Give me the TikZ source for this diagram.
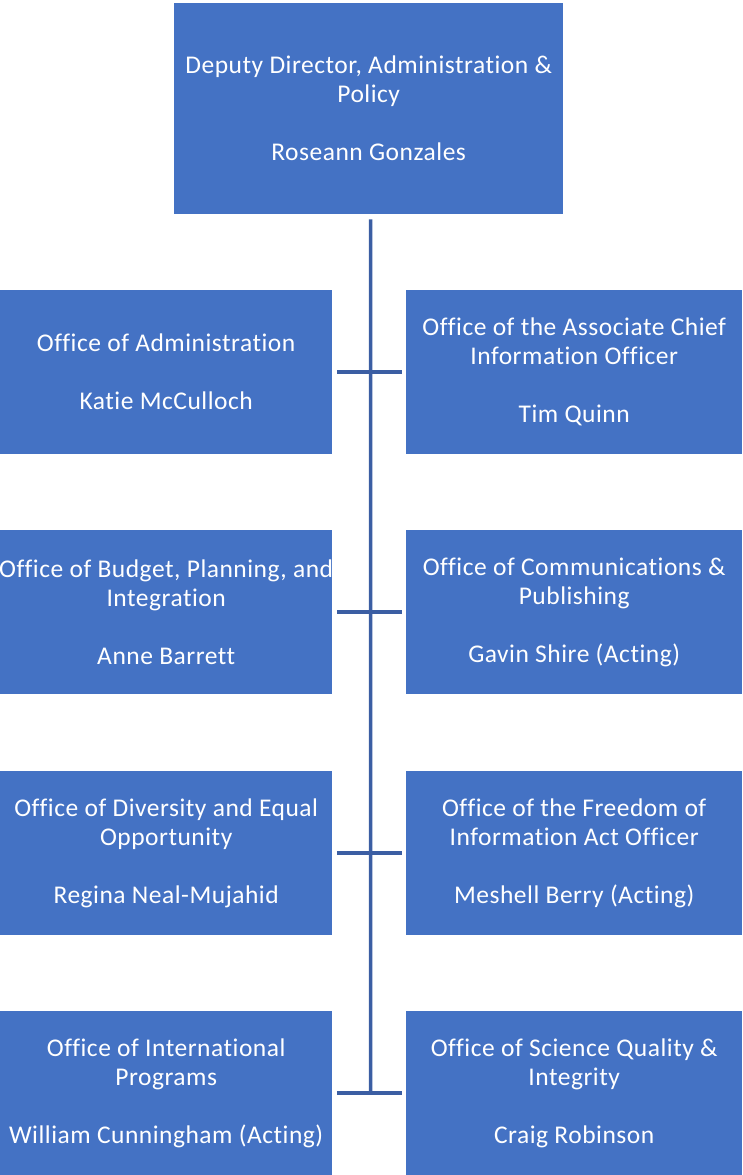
\documentclass[tikz,border=0pt]{standalone}
\usepackage{fontspec}
\setmainfont{Carlito}[LetterSpace=2.0,Ligatures=NoCommon]
\definecolor{boxblue}{HTML}{4472C4}
\definecolor{lineblue}{RGB}{59,94,163}
\begin{document}
\begin{tikzpicture}[x=1pt,y=-1pt,
  box/.style={fill=boxblue, text=white, align=center, font=\fontsize{25.5}{29}\selectfont, inner sep=0pt, anchor=north west},
  lbox/.style={box, minimum width=332pt, minimum height=164pt},
  rbox/.style={box, minimum width=336pt, minimum height=164pt},
  conn/.style={draw=lineblue, line width=3.5pt}]
\useasboundingbox (0,0) rectangle (743,1175);
\node[box, minimum width=389pt, minimum height=211pt] (top) at (174,3) {Deputy Director, Administration \&\\Policy\\[29pt]Roseann Gonzales};
\node[lbox] (L1) at (0,290) {Office of Administration\\[29pt]Katie McCulloch};
\node[rbox] (R1) at (406,290) {Office of the Associate Chief\\Information Officer\\[29pt]Tim Quinn};
\node[lbox] (L2) at (0,530) {\makebox[330pt][c]{Office of Budget, Planning, and}\\Integration\\[29pt]Anne Barrett};
\node[rbox] (R2) at (406,530) {Office of Communications \&\\Publishing\\[29pt]Gavin Shire (Acting)};
\node[lbox] (L3) at (0,771) {Office of Diversity and Equal\\Opportunity\\[29pt]Regina Neal-Mujahid};
\node[rbox] (R3) at (406,771) {Office of the Freedom of\\Information Act Officer\\[29pt]Meshell Berry (Acting)};
\node[lbox] (L4) at (0,1011) {Office of International\\Programs\\[29pt]William Cunningham (Acting)};
\node[rbox] (R4) at (406,1011) {Office of Science Quality \&\\Integrity\\[29pt]Craig Robinson};
\coordinate (spineBot) at (370.5,1093);
\draw[conn] ([xshift=2pt,yshift=-5pt]top.south) -- (spineBot);
\foreach \i in {1,2,3,4}{
  \draw[conn] ([xshift=4.5pt]L\i.east) -- ([xshift=-4.5pt]R\i.west);
}
\end{tikzpicture}
\end{document}
